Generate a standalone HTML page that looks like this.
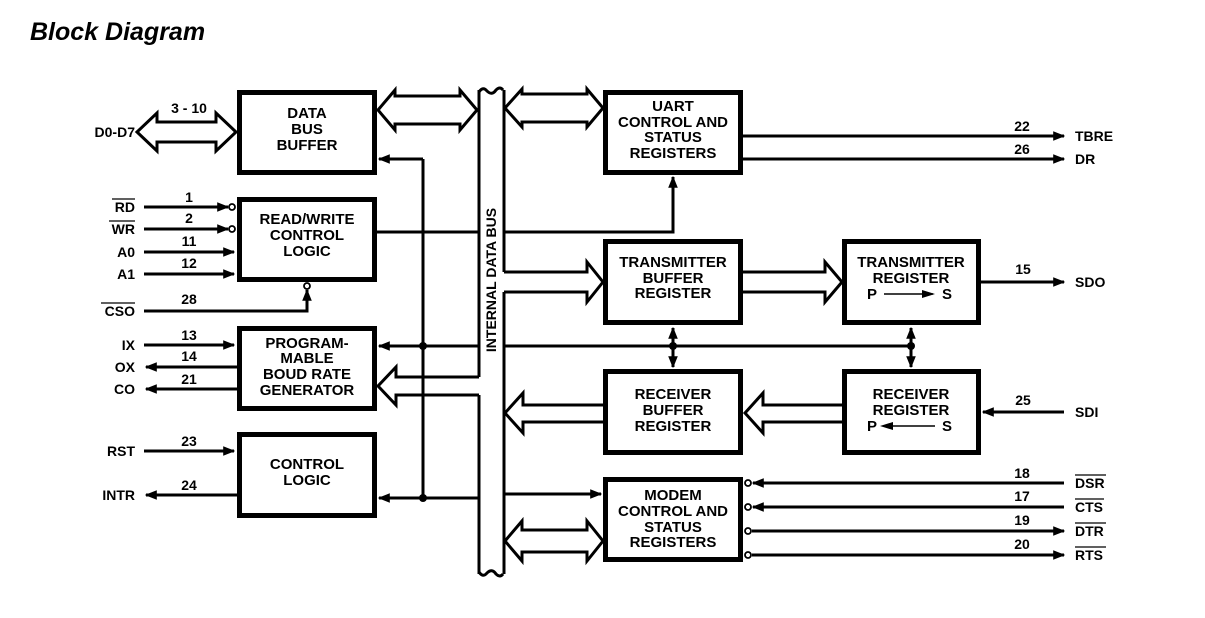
<!DOCTYPE html>
<html><head><meta charset="utf-8"><style>
html,body{margin:0;padding:0;background:#fff;}
svg{display:block;}
text{font-family:"Liberation Sans",Arial,sans-serif;font-weight:bold;fill:#000;}
</style></head><body>
<svg width="1205" height="618" viewBox="0 0 1205 618" xmlns="http://www.w3.org/2000/svg">
<defs>
<marker id="ah" viewBox="0 0 10 10" refX="9" refY="5" markerWidth="4" markerHeight="4" orient="auto-start-reverse" markerUnits="strokeWidth"><path d="M0,1 L10,5 L0,9 z" fill="#000"/></marker>
</defs>
<text x="30" y="40" font-size="25" font-style="italic">Block Diagram</text>

<g fill="#fff" stroke="#000" stroke-width="5">
<rect x="239.5" y="92.5" width="135" height="80"/>
<rect x="239.5" y="199.5" width="135" height="80"/>
<rect x="239.5" y="328.5" width="135" height="80"/>
<rect x="239.5" y="434.5" width="135" height="81"/>
<rect x="605.5" y="92.5" width="135" height="80"/>
<rect x="605.5" y="241.5" width="135" height="81"/>
<rect x="844.5" y="241.5" width="134" height="81"/>
<rect x="605.5" y="371.5" width="135" height="81"/>
<rect x="844.5" y="371.5" width="134" height="81"/>
<rect x="605.5" y="479.5" width="135" height="80"/>
</g>

<g font-size="15" text-anchor="middle">
<text x="307" y="118">DATA</text><text x="307" y="134">BUS</text><text x="307" y="150">BUFFER</text>
<text x="307" y="224">READ/WRITE</text><text x="307" y="240">CONTROL</text><text x="307" y="256">LOGIC</text>
<text x="307" y="348">PROGRAM-</text><text x="307" y="363">MABLE</text><text x="307" y="379">BOUD RATE</text><text x="307" y="395">GENERATOR</text>
<text x="307" y="469">CONTROL</text><text x="307" y="485">LOGIC</text>
<text x="673" y="111">UART</text><text x="673" y="127">CONTROL AND</text><text x="673" y="142">STATUS</text><text x="673" y="158">REGISTERS</text>
<text x="673" y="267">TRANSMITTER</text><text x="673" y="283">BUFFER</text><text x="673" y="298">REGISTER</text>
<text x="911" y="267">TRANSMITTER</text><text x="911" y="283">REGISTER</text>
<text x="673" y="399">RECEIVER</text><text x="673" y="415">BUFFER</text><text x="673" y="431">REGISTER</text>
<text x="911" y="399">RECEIVER</text><text x="911" y="415">REGISTER</text>
<text x="673" y="500">MODEM</text><text x="673" y="516">CONTROL AND</text><text x="673" y="532">STATUS</text><text x="673" y="547">REGISTERS</text>
</g>
<g font-size="15">
<text x="867" y="299">P</text><text x="942" y="299">S</text>
<text x="867" y="431">P</text><text x="942" y="431">S</text>
</g>
<line x1="884" y1="294" x2="933" y2="294" stroke="#000" stroke-width="1.5"/>
<path d="M922,290 L935,294 L922,298z"/>
<line x1="892" y1="426" x2="935" y2="426" stroke="#000" stroke-width="1.5"/>
<path d="M893,422 L880,426 L893,430z"/>

<!-- bus -->
<g stroke="#000" stroke-width="3" fill="none">
<path d="M479,92 q4,-6 8,-1 q5,5 9,-1 q4,-4 7,0"/>
<path d="M479,572 q4,6 8,1 q5,-5 9,1 q4,4 7,0"/>
<line x1="479" y1="90" x2="479" y2="377"/>
<line x1="479" y1="395" x2="479" y2="574"/>
<line x1="504" y1="90" x2="504" y2="272"/>
<line x1="504" y1="292" x2="504" y2="574"/>
</g>
<text transform="translate(496,280) rotate(-90)" font-size="14" text-anchor="middle">INTERNAL DATA BUS</text>

<!-- hollow arrows -->
<g fill="#fff" stroke="#000" stroke-width="3" stroke-linejoin="miter">
<polygon points="137,132 157,113 157,122 216,122 216,113 236,132 216,151 216,142 157,142 157,151"/>
<polygon points="378,110 395,90 395,96 460,96 460,90 477,110 460,130 460,124 395,124 395,130"/>
<polygon points="505,108 522,89 522,94 587,94 587,89 603,108 587,127 587,122 522,122 522,127"/>
<polygon points="505,541 522,521 522,530 587,530 587,521 603,541 587,561 587,552 522,552 522,561"/>
<polyline points="504,272 587,272 587,262 603,282 587,302 587,292 504,292"/>
<polygon points="743,282 825,272 825,262 842,282 825,302 825,292 743,292" style="display:none"/>
<polyline points="743,272 825,272 825,262 842,282 825,302 825,292 743,292"/>
<polyline points="603,405 523,405 523,393 505,413 523,433 523,422 603,422"/>
<polyline points="842,405 763,405 763,393 745,413 763,433 763,422 842,422"/>
<polyline points="479,377 396,377 396,367 378,386 396,405 396,395 479,395"/>
</g>

<!-- thin lines -->
<g stroke="#000" stroke-width="3" fill="none">
<line x1="423" y1="159" x2="423" y2="498"/>
<line x1="423" y1="159" x2="379" y2="159" marker-end="url(#ah)"/>
<line x1="479" y1="346" x2="379" y2="346" marker-end="url(#ah)"/>
<line x1="479" y1="498" x2="379" y2="498" marker-end="url(#ah)"/>
<line x1="377" y1="232" x2="479" y2="232"/>
<polyline points="504,232 673,232 673,177" marker-end="url(#ah)"/>
<line x1="504" y1="346" x2="911" y2="346"/>
<line x1="673" y1="328" x2="673" y2="367" marker-start="url(#ah)" marker-end="url(#ah)"/>
<line x1="911" y1="328" x2="911" y2="367" marker-start="url(#ah)" marker-end="url(#ah)"/>
<line x1="504" y1="494" x2="601" y2="494" marker-end="url(#ah)"/>
<line x1="743" y1="136" x2="1064" y2="136" marker-end="url(#ah)"/>
<line x1="743" y1="159" x2="1064" y2="159" marker-end="url(#ah)"/>
<line x1="981" y1="282" x2="1064" y2="282" marker-end="url(#ah)"/>
<line x1="1064" y1="412" x2="983" y2="412" marker-end="url(#ah)"/>
<line x1="1064" y1="483" x2="753" y2="483" marker-end="url(#ah)"/>
<line x1="1064" y1="507" x2="753" y2="507" marker-end="url(#ah)"/>
<line x1="752" y1="531" x2="1064" y2="531" marker-end="url(#ah)"/>
<line x1="752" y1="555" x2="1064" y2="555" marker-end="url(#ah)"/>
<line x1="144" y1="207" x2="228" y2="207" marker-end="url(#ah)"/>
<line x1="144" y1="229" x2="228" y2="229" marker-end="url(#ah)"/>
<line x1="144" y1="252" x2="234" y2="252" marker-end="url(#ah)"/>
<line x1="144" y1="274" x2="234" y2="274" marker-end="url(#ah)"/>
<polyline points="144,311 307,311 307,290" marker-end="url(#ah)"/>
<line x1="144" y1="345" x2="234" y2="345" marker-end="url(#ah)"/>
<line x1="237" y1="367" x2="146" y2="367" marker-end="url(#ah)"/>
<line x1="237" y1="389" x2="146" y2="389" marker-end="url(#ah)"/>
<line x1="144" y1="451" x2="234" y2="451" marker-end="url(#ah)"/>
<line x1="237" y1="495" x2="146" y2="495" marker-end="url(#ah)"/>
</g>
<g fill="#000">
<circle cx="423" cy="346" r="4"/><circle cx="423" cy="498" r="4"/>
<circle cx="673" cy="346" r="4"/><circle cx="911" cy="346" r="4"/>
</g>
<g fill="#fff" stroke="#000" stroke-width="1.8">
<circle cx="232" cy="207" r="3"/><circle cx="232" cy="229" r="3"/>
<circle cx="307" cy="286" r="3"/>
<circle cx="748" cy="483" r="3"/><circle cx="748" cy="507" r="3"/>
<circle cx="748" cy="531" r="3"/><circle cx="748" cy="555" r="3"/>
</g>

<!-- labels -->
<g font-size="14" text-anchor="end">
<text x="135" y="137">D0-D7</text>
<text x="135" y="212">RD</text><text x="135" y="234">WR</text>
<text x="135" y="257">A0</text><text x="135" y="279">A1</text>
<text x="135" y="316">CSO</text>
<text x="135" y="350">IX</text><text x="135" y="372">OX</text><text x="135" y="394">CO</text>
<text x="135" y="456">RST</text><text x="135" y="500">INTR</text>
</g>
<g stroke="#000" stroke-width="1.3">
<line x1="112" y1="199" x2="135" y2="199"/><line x1="109" y1="221" x2="135" y2="221"/>
<line x1="101" y1="303" x2="135" y2="303"/>
<line x1="1075" y1="475" x2="1106" y2="475"/><line x1="1075" y1="499" x2="1104" y2="499"/>
<line x1="1075" y1="523" x2="1106" y2="523"/><line x1="1075" y1="547" x2="1106" y2="547"/>
</g>
<g font-size="14">
<text x="1075" y="141">TBRE</text><text x="1075" y="164">DR</text>
<text x="1075" y="287">SDO</text><text x="1075" y="417">SDI</text>
<text x="1075" y="488">DSR</text><text x="1075" y="512">CTS</text>
<text x="1075" y="536">DTR</text><text x="1075" y="560">RTS</text>
</g>
<g font-size="14" text-anchor="middle">
<text x="189" y="113">3 - 10</text>
<text x="189" y="202">1</text><text x="189" y="223">2</text>
<text x="189" y="246">11</text><text x="189" y="268">12</text>
<text x="189" y="304">28</text>
<text x="189" y="340">13</text><text x="189" y="361">14</text><text x="189" y="384">21</text>
<text x="189" y="446">23</text><text x="189" y="490">24</text>
<text x="1022" y="131">22</text><text x="1022" y="154">26</text>
<text x="1023" y="274">15</text><text x="1023" y="405">25</text>
<text x="1022" y="478">18</text><text x="1022" y="501">17</text>
<text x="1022" y="525">19</text><text x="1022" y="549">20</text>
</g>
</svg>
</body></html>
